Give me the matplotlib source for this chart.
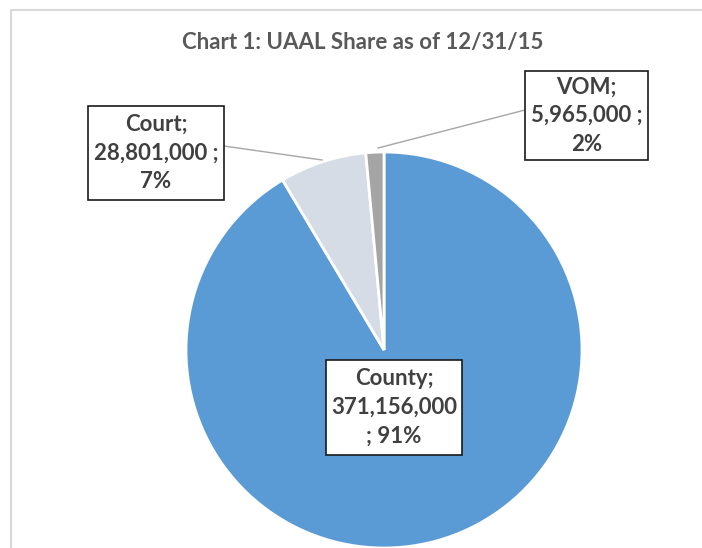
import matplotlib.pyplot as plt
from matplotlib.patches import Rectangle

plt.rcParams['font.family'] = ['Lato', 'DejaVu Sans']

categories = ["County", "Court", "VOM"]
values = [371156000, 28801000, 5965000]
value_labels = ["371,156,000", "28,801,000", "5,965,000"]
pct_labels = ["91%", "7%", "2%"]
colors = ["#5b9bd5", "#d6dce5", "#a5a5a5"]

W, H = 702, 548
fig = plt.figure(figsize=(W / 100, H / 100), dpi=100)
ax = fig.add_axes([0, 0, 1, 1])

# chart area border (cut off at right and bottom)
ax.plot([11, 11, W + 5], [-5, H - 10, H - 10], color="#d9d9d9", lw=1.5)

cx, cy, r = 384, H - 350, 198
ax.pie(values, colors=colors, startangle=90, counterclock=False,
       center=(cx, cy), radius=r, frame=True,
       wedgeprops=dict(edgecolor="white", linewidth=2))
ax.set_xlim(0, W)
ax.set_ylim(0, H)
ax.set_aspect("auto")
ax.set_axis_off()

ax.text(363, H - 42, "Chart 1: UAAL Share as of 12/31/15", ha="center", va="center",
        fontsize=16, fontweight="bold", color="#595959")

# label boxes: (x0, y0_top, width, height) in pixels, and text format
boxes = {
    "County": (326, 360, 136, 95, "{c};\n{v}\n; {p}"),
    "Court": (88, 106, 136, 94, "{c};\n{v} ;\n{p}"),
    "VOM": (525, 71, 123, 89, "{c};\n{v} ;\n{p}"),
}
for i, c in enumerate(categories):
    x0, y0, bw, bh, fmt = boxes[c]
    ax.add_patch(Rectangle((x0, H - y0 - bh), bw, bh, facecolor="white",
                           edgecolor="#1a1a1a", lw=1.2, zorder=5))
    ax.text(x0 + bw / 2, H - y0 - bh / 2,
            fmt.format(c=c, v=value_labels[i], p=pct_labels[i]),
            ha="center", va="center", fontsize=16, fontweight="bold",
            color="#404040", linespacing=1.45, zorder=6)

# leader lines
ax.plot([224, 322], [H - 146, H - 160], color="#a6a6a6", lw=1, zorder=4)
ax.plot([525, 378], [H - 110, H - 148], color="#a6a6a6", lw=1, zorder=4)

fig.savefig("out.png", dpi=100)
